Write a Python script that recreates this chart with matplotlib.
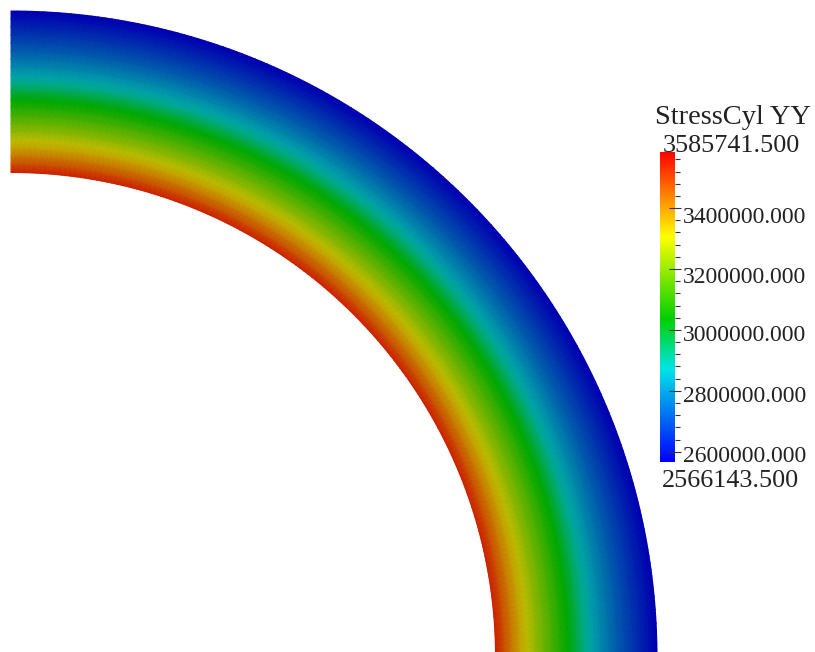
import numpy as np
from matplotlib import pyplot as plt
from matplotlib.colors import LinearSegmentedColormap
from matplotlib.ticker import MultipleLocator
from matplotlib.transforms import ScaledTranslation
from matplotlib.tri import Triangulation

# radial stations through the wall and the stress read at each of them
radius = [3.0, 3.05, 3.1, 3.15, 3.2, 3.25, 3.3, 3.35, 3.4, 3.45, 3.5,
          3.55, 3.6, 3.65, 3.7, 3.75, 3.8, 3.85, 3.9, 3.95, 4.0]
stress = [3585741, 3510000, 3438000, 3370000, 3305000, 3243000, 3185000,
          3130000, 3072000, 3020000, 2970000, 2920000, 2875000, 2830000,
          2786000, 2745000, 2706000, 2670000, 2634000, 2600000, 2566143]

v_min = 2566143.5
v_max = 3585741.5
major_ticks = [2600000, 2800000, 3000000, 3200000, 3400000]
major_labels = ["2600000.000", "2800000.000", "3000000.000", "3200000.000", "3400000.000"]
label_shift_px = [1.5, 2, 2.5, 4.5, 5]

# colour tables, fractions taken from the legend bar and the ring
cmap_pos = [0.0, 0.30, 0.46, 0.725, 1.0]
cmap_colors = ["#0000ff", "#00e6e6", "#00d000", "#ffff00", "#ff0000"]
ring_pos = [0.0, 0.32, 0.445, 0.74, 1.0]
ring_colors = ["#0000b0", "#00aaa8", "#00a800", "#c4bc00", "#cc2000"]

legend_cmap = LinearSegmentedColormap.from_list("legend", list(zip(cmap_pos, cmap_colors)))
ring_cmap = LinearSegmentedColormap.from_list("ring", list(zip(ring_pos, ring_colors)))

W, H = 815, 652
px = 161.5  # pixels per mesh unit
cx, cy = 11, 657

fig = plt.figure(figsize=(W / 100, H / 100), dpi=100, facecolor="white")
ax = fig.add_axes([0, 0, 1, 1])
ax.set_xlim(-cx / px, (W - cx) / px)
ax.set_ylim((cy - H) / px, cy / px)
ax.axis("off")

# staggered quarter ring mesh
n_theta = 150
row = n_theta + 1
xs, ys, zs = [], [], []
for i, r in enumerate(radius):
    shift = 0.5 if i % 2 else 0.0
    theta = np.clip((np.arange(row) + shift) / n_theta, 0, 1) * np.pi / 2
    xs.extend(r * np.cos(theta))
    ys.extend(r * np.sin(theta))
    zs.extend([stress[i]] * row)

tri = []
for i in range(len(radius) - 1):
    for j in range(n_theta):
        a = i * row + j
        tri.append([a, a + 1, a + row])
        tri.append([a + 1, a + row + 1, a + row])

mesh = Triangulation(xs, ys, tri)
ax.tripcolor(mesh, zs, cmap=ring_cmap, vmin=v_min, vmax=v_max, shading="gouraud")
# faint facets on top, the original mesh shows through a little
ax.tripcolor(mesh, zs, cmap=ring_cmap, vmin=v_min, vmax=v_max, shading="flat",
             alpha=0.12, antialiased=False, edgecolors="none")

# legend bar
bar = fig.add_axes([660 / W, 1 - 462 / H, 14.5 / W, 310.5 / H])
grad = np.linspace(v_min, v_max, 256).reshape(-1, 1)
bar.imshow(grad, origin="lower", aspect="auto", cmap=legend_cmap,
           extent=[0, 1, v_min, v_max])
for s in bar.spines.values():
    s.set_visible(False)
bar.set_xticks([])
bar.yaxis.tick_right()
bar.set_yticks(major_ticks)
bar.set_yticklabels(major_labels, family="Liberation Serif", fontsize=17, color="#222222")
bar.yaxis.set_minor_locator(MultipleLocator(40000))
bar.tick_params(axis="y", which="major", direction="inout", length=8.6, width=0.8,
                color="#333333", pad=1.5)
bar.tick_params(axis="y", which="minor", direction="out", length=3.6, width=0.8, color="#333333")
for lab, dy in zip(bar.get_yticklabels(), label_shift_px):
    lab.set_transform(lab.get_transform() + ScaledTranslation(0, -dy / 72, fig.dpi_scale_trans))

fig.text(732.5 / W, 1 - 117 / H, "StressCyl YY", family="Liberation Serif", fontsize=20.5,
         ha="center", va="center", color="#222222")
fig.text(731 / W, 1 - 146 / H, "3585741.500", family="Liberation Serif", fontsize=18.8,
         ha="center", va="center", color="#222222")
fig.text(730 / W, 1 - 481 / H, "2566143.500", family="Liberation Serif", fontsize=18.8,
         ha="center", va="center", color="#222222")

fig.savefig("out.png", dpi=100, facecolor="white")
